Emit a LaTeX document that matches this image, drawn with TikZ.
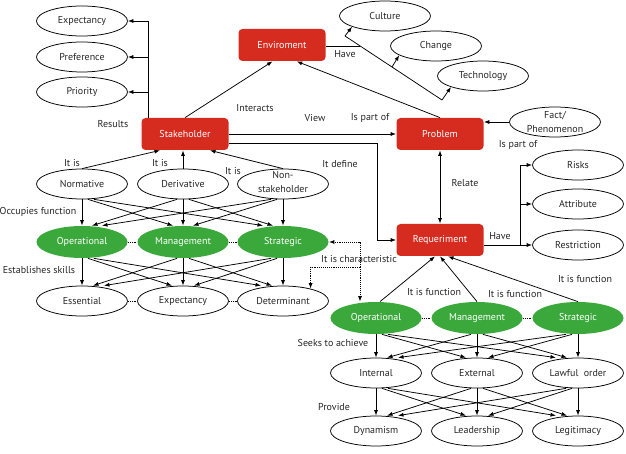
\documentclass[tikz,border=0pt]{standalone}
\usepackage{fontspec}
\setmainfont{PT Sans}
\usetikzlibrary{arrows.meta, shapes.geometric}

\definecolor{boxred}{RGB}{214,43,31}
\definecolor{ovalgreen}{RGB}{59,168,60}

\begin{document}
\begin{tikzpicture}[
    x=1pt, y=-1pt, % Work in pixel units, y grows downwards
    >={Latex[length=5.5pt, width=4pt]}, % Default arrow tip
    line width=0.75pt,
    redbox/.style={rectangle, rounded corners=4pt, fill=boxred, text=white, minimum width=87pt, minimum height=32pt, inner sep=0pt}, % Main concepts
    oval/.style={ellipse, draw, minimum width=91pt, minimum height=30pt, inner sep=0pt, text=black!85}, % White ellipses
    greenoval/.style={ellipse, fill=ovalgreen, text=white, minimum width=91pt, minimum height=32pt, inner sep=0pt}, % Levels
    tie/.style={densely dotted, line width=0.9pt}, % Dotted links
    lbl/.style={inner sep=1pt, text=black!85} % Connector labels
]

    % Fix the page to the reference size
    \useasboundingbox (0,0) rectangle (626,454);

    % --- Main concepts ---
    \node[redbox] (stake) at (185,134) {Stakeholder};
    \node[redbox] (env) at (282,45) {Enviroment};
    \node[redbox] (prob) at (440,134) {Problem};
    \node[redbox] (req) at (440,240) {Requeriment};

    % --- Results of the stakeholder ---
    \node[oval] (expt) at (82,21) {Expectancy};
    \node[oval] (pref) at (82,57) {Preference};
    \node[oval] (prio) at (82,92) {Priority};
    \coordinate (res) at (148,21);
    \draw (stake.north -| res) -- (res);
    \foreach \n in {expt,pref,prio}
        \draw[->] (res |- \n.east) -- (\n.east);
    \node[lbl] at (113,124) {Results};

    % --- Enviroment ---
    \draw[->] (stake.north) -- (env.240);
    \node[lbl] at (255,108) {Interacts};
    \draw[->] (prob.north) -- (env.312);
    \node[oval] (cult) at (385,16) {Culture};
    \node[oval] (chg) at (436,46) {Change};
    \node[oval] (tech) at (483,76) {Technology};
    \coordinate (hvtop) at (345,36);
    \coordinate (hvjoin) at (360,46);
    \coordinate (hvmid) at (392,67);
    \coordinate (hvbot) at (442,100);
    \draw (env.east |- hvjoin) -- (hvjoin);
    \draw (hvtop) -- (hvbot);
    \draw[->] (hvtop) -- (cult.198);
    \draw[->] (hvmid) -- (chg.194);
    \draw[->] (hvbot) -- (tech.199);
    \node[lbl] at (345,54) {Have};

    % --- Problem ---
    \draw[->] (stake.east) -- (prob.west);
    \node[lbl] at (315,118) {View};
    \node[lbl] at (370,118) {Is part of};
    \node[oval] (fact) at (555,122) {\smash{\raisebox{-4pt}{\begin{tabular}{@{}c@{}}Fact/\\[2pt]Phenomenon\end{tabular}}}};
    \draw[->] (fact.west) -- (prob.east |- fact.west);
    \node[lbl] at (518,145) {Is part of};

    % --- Requeriment ---
    \coordinate (def) at (377,143);
    \draw[->] (stake.east |- def) -- (def) |- (req.west);
    \node[lbl] at (340,164) {It define};
    \draw[<->] (prob.south) -- (req.north);
    \node[lbl] at (465,183) {Relate};
    \node[oval] (risk) at (578,165) {Risks};
    \node[oval] (attr) at (578,204) {Attribute};
    \node[oval] (restr) at (578,245) {Restriction};
    \coordinate (hvreq) at (520,245);
    \draw (req.east |- hvreq) -- (hvreq) -- (hvreq |- risk.west);
    \foreach \n in {risk,attr,restr}
        \draw[->] (hvreq |- \n.west) -- (\n.west);
    \node[lbl] at (500,236) {Have};

    % --- Stakeholder types ---
    \node[oval] (norm) at (82,184) {Normative};
    \node[oval] (deriv) at (183,184) {Derivative};
    \node[oval] (nonst) at (283,184) {\smash{\raisebox{-2pt}{\begin{tabular}{@{}c@{}}Non-\\[2pt]stakeholder\end{tabular}}}};
    \draw[->] (norm.north) -- ([xshift=-25pt]stake.south);
    \draw[->] (deriv.north) -- (deriv.north |- stake.south);
    \draw[->] (nonst.north) -- ([xshift=25pt]stake.south);
    \node[lbl] at (72,163) {It is};
    \node[lbl] at (160,163) {It is};
    \node[lbl] at (233,171) {It is};

    % --- Functions of the stakeholder ---
    \node[greenoval] (op1) at (82,242) {Operational};
    \node[greenoval] (man1) at (183,242) {Management};
    \node[greenoval] (str1) at (283,242) {Strategic};
    \draw[tie] (op1.east) -- (man1.west);
    \draw[tie] (man1.east) -- (str1.west);
    \foreach \u [count=\i] in {norm,deriv,nonst}
        \foreach \l [count=\j] in {op1,man1,str1}
            \draw[->] ([xshift={(\j-\i)*6pt}]\u.south) -- ([xshift={(\i-\j)*10pt}]\l.north);
    \node[lbl] at (38,212) {Occupies function};

    % --- Skills ---
    \node[oval] (ess) at (82,301) {Essential};
    \node[oval] (expc) at (183,301) {Expectancy};
    \node[oval] (det) at (283,301) {Determinant};
    \draw[tie] (ess.east) -- (expc.west);
    \draw[tie] (expc.east) -- (det.west);
    \foreach \u [count=\i] in {op1,man1,str1}
        \foreach \l [count=\j] in {ess,expc,det}
            \draw[->] ([xshift={(\j-\i)*6pt}]\u.south) -- ([xshift={(\i-\j)*11pt}]\l.north);
    \node[lbl] at (39,270) {Establishes skills};

    % --- Functions of the requeriment ---
    \node[greenoval] (op2) at (376,318) {Operational};
    \node[greenoval] (man2) at (477,318) {Management};
    \node[greenoval] (str2) at (578,318) {Strategic};
    \draw[tie] (op2.east) -- (man2.west);
    \draw[tie] (man2.east) -- (str2.west);
    \draw[->] ([xshift=4pt]op2.north) -- ([xshift=-5pt]req.south);
    \draw[->] (man2.north) -- (req.south);
    \draw[->] (str2.north) -- ([xshift=8pt]req.south);
    \node[lbl] at (434,292) {It is function};
    \node[lbl] at (515,294) {It is function};
    \node[lbl] at (585,279) {It is function};

    % --- Characteristic links ---
    \coordinate (ch) at (360,267);
    \draw[tie, ->] (ch) |- (str1.east);
    \draw[tie, ->] (ch) -- (ch |- op2.north);
    \draw[tie, ->] (ch) -| (det.24);
    \node[lbl] at (359,259) {It is characteristic};

    % --- Aims ---
    \node[oval] (intl) at (376,373) {Internal};
    \node[oval] (extl) at (477,373) {External};
    \node[oval] (lawf) at (578,373) {Lawful\ \ order};
    \foreach \u [count=\i] in {op2,man2,str2}
        \foreach \l [count=\j] in {intl,extl,lawf}
            \draw[->] ([xshift={(\j-\i)*6pt}]\u.south) -- ([xshift={(\i-\j)*11pt}]\l.north);
    \node[lbl] at (333,343) {Seeks to achieve};

    % --- What they provide ---
    \node[oval] (dyn) at (376,431) {Dynamism};
    \node[oval] (lead) at (477,431) {Leadership};
    \node[oval] (legit) at (578,431) {Legitimacy};
    \foreach \u [count=\i] in {intl,extl,lawf}
        \foreach \l [count=\j] in {dyn,lead,legit}
            \draw[->] ([xshift={(\j-\i)*6pt}]\u.south) -- ([xshift={(\i-\j)*11pt}]\l.north);
    \node[lbl] at (334,407) {Provide};

\end{tikzpicture}
\end{document}
